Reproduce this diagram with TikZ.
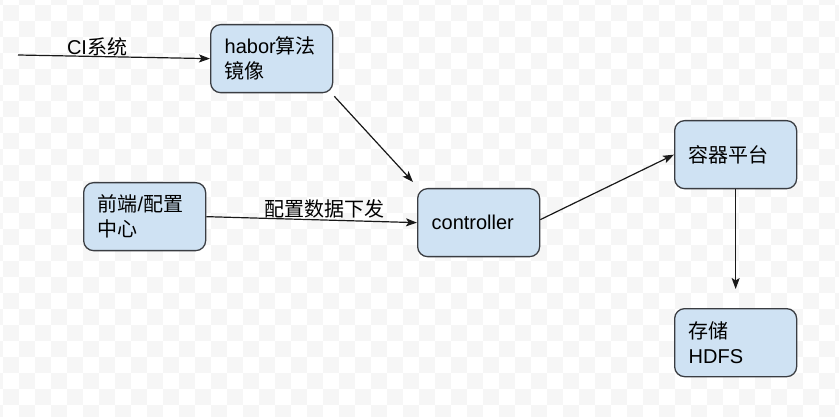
\documentclass[tikz,border=0pt]{standalone}
\usepackage{fontspec}
\setmainfont{Liberation Sans}
\newfontfamily\cjk{Noto Sans CJK SC}
\usetikzlibrary{arrows.meta,calc}
\definecolor{boxfill}{HTML}{CFE2F3}
\definecolor{boxline}{HTML}{3A3D42}
\definecolor{chk}{HTML}{F6F6F6}
\begin{document}
\begin{tikzpicture}[x=1pt,y=-1pt,
  box/.style={draw=boxline,fill=boxfill,line width=1.3pt,rounded corners=10pt,
    minimum width=122pt,minimum height=68pt,text width=94pt,inner xsep=14pt,inner ysep=0pt,
    align=left,anchor=north west,font=\fontsize{20}{25}\selectfont},
  arr/.style={draw=black!90,line width=1.2pt,-{Stealth[length=11pt,width=8pt,inset=2.5pt]}},
  lbl/.style={font=\fontsize{20}{25}\selectfont,inner sep=0pt}]
\useasboundingbox (0,0) rectangle (839,417);
\fill[white] (0,0) rectangle (839,417);
% checkerboard background
\foreach \i in {-1,...,52}{
  \foreach \j in {-1,...,26}{
    \pgfmathtruncatemacro\chkpar{mod(\i+\j+2,2)}
    \ifnum\chkpar=0
      \fill[chk] ({3.3+16*\i},{5+16*\j}) rectangle ++(16,16);
    \fi
  }
}
\node[box] (habor) at (210,24) {habor{\cjk 算法}\\{\cjk 镜像}};
\node[box] (qd) at (83,182) {{\cjk 前端}/{\cjk 配置}\\{\cjk 中心}};
\node[box] (ctl) at (417,188) {controller};
\node[box] (rq) at (674,120) {{\cjk 容器平台}};
\node[box] (hdfs) at (674,308) {{\cjk 存储}\\HDFS};
\coordinate (ci) at (18,55);
\coordinate (hs) at ($(habor.south east)+(1,3)$);
\coordinate (ce) at ($(ctl.north west)+(-4,-6)$);
\coordinate (he) at ($(hdfs.north)+(0,-19)$);
\draw[arr] (ci) -- (habor.west);
\draw[arr] (hs) -- (ce);
\draw[arr] (qd.east) -- (ctl.west);
\draw[arr] ($(ctl.east)+(0,-3)$) -- (rq.west);
\draw[arr] (rq.south) -- (he);
\node[lbl] (cil) at (97,47) {CI{\cjk 系统}};
\node[lbl] (pzl) at (324,209) {{\cjk 配置数据下发}};
\end{tikzpicture}
\end{document}
